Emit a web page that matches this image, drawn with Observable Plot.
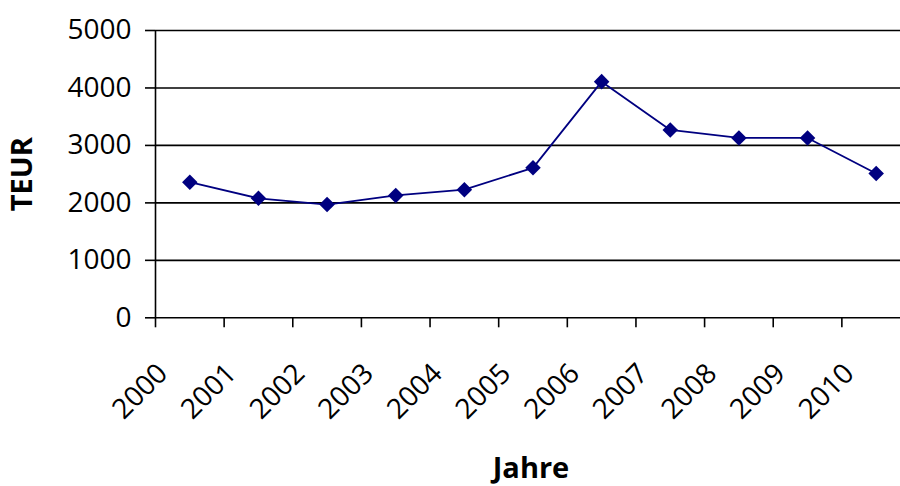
<!DOCTYPE html>
<html>
<head>
<meta charset="utf-8">
<script src="https://cdn.jsdelivr.net/npm/d3@7"></script>
<script src="https://cdn.jsdelivr.net/npm/@observablehq/plot@0.6"></script>
<style>
  html, body { margin: 0; padding: 0; background: #fff; }
  #chart svg { display: block; }
</style>
</head>
<body>
<div id="chart"></div>
<script>
const years = ["2000","2001","2002","2003","2004","2005","2006","2007","2008","2009","2010"];
const values = [2360, 2080, 1970, 2130, 2230, 2610, 4110, 3270, 3130, 3130, 2510];
const yTicks = [0, 1000, 2000, 3000, 4000, 5000];
const yLabel = "TEUR";
const xLabel = "Jahre";

const data = years.map((year, i) => ({i: i + 0.5, year, value: values[i]}));
const boundaries = d3.range(years.length + 1);
const centers = years.map((_, i) => i + 0.5);

const chart = Plot.plot({
  width: 900,
  height: 486,
  marginTop: 30,
  marginBottom: 168.7,
  marginLeft: 155,
  marginRight: 0,
  style: {fontFamily: "'Open Sans', sans-serif", fontSize: "28px", color: "#000", background: "#fff"},
  x: {domain: [0, years.length], range: [155, 910]},
  y: {domain: [0, 5000], range: [317.3, 30]},
  marks: [
    Plot.ruleY(yTicks, {stroke: "#000", strokeWidth: 1.6}),
    Plot.axisY({ticks: yTicks, tickSize: 10, tickPadding: 14, tickFormat: d => String(d), stroke: "#000", strokeWidth: 1.6, strokeOpacity: 1, label: null, fontSize: 28, letterSpacing: "0.5px"}),
    Plot.ruleX([0], {stroke: "#000", strokeWidth: 1.6}),
    Plot.axisX({ticks: boundaries, tickSize: 10, tickFormat: () => "", stroke: "#000", strokeWidth: 1.6, strokeOpacity: 1, label: null}),
    Plot.axisX({ticks: centers, tickSize: 0, tickPadding: 51, dx: -27, tickRotate: -45, tickFormat: d => years[Math.floor(d)], label: null, fontSize: 28, letterSpacing: "0.5px"}),
    Plot.line(data, {x: "i", y: "value", stroke: "#000080", strokeWidth: 1.8}),
    Plot.dot(data, {x: "i", y: "value", symbol: "diamond2", r: 7, fill: "#000080", stroke: "none"}),
    Plot.text([yLabel], {frameAnchor: "left", textAnchor: "middle", lineAnchor: "middle", rotate: -90, dx: -133, fontSize: 29, fontWeight: "bold", letterSpacing: "2px"}),
    Plot.text([xLabel], {frameAnchor: "bottom", textAnchor: "middle", lineAnchor: "bottom", dx: 3, dy: 160, fontSize: 29, fontWeight: "bold", letterSpacing: "1px"})
  ]
});
document.getElementById("chart").append(chart);
</script>
</body>
</html>
